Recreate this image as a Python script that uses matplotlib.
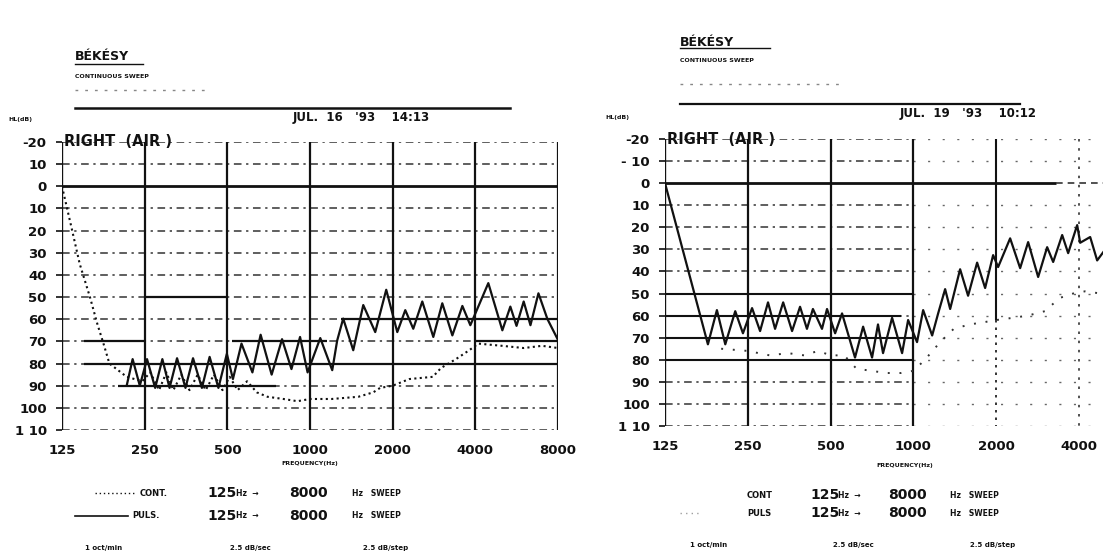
import matplotlib
matplotlib.use('Agg')
import matplotlib.pyplot as plt
from matplotlib.lines import Line2D

plt.rcParams['font.family'] = 'DejaVu Sans'

# ---------------- datos ----------------
FREQ_TICKS = [125, 250, 500, 1000, 2000, 4000, 8000]
LEFT_FREQ_LABELS = ['125', '250', '500', '1000', '2000', '4000', '8000']
RIGHT_FREQ_LABELS = ['125', '250', '500', '1000', '2000', '4000', '']  # 8000 queda fuera del recorte
DB_TICKS = [-20, -10, 0, 10, 20, 30, 40, 50, 60, 70, 80, 90, 100, 110]
LEFT_DB_LABELS = ['-20', '10', '0', '10', '20', '30', '40', '50', '60', '70', '80', '90', '100', '1 10']
RIGHT_DB_LABELS = ['-20', '- 10', '0', '10', '20', '30', '40', '50', '60', '70', '80', '90', '100', '1 10']

# registro izquierdo (JUL. 16)
l_puls_f = [215, 226, 240, 255, 273, 290, 308, 328, 352, 375,
            404, 431, 464, 498, 524, 563, 617, 661, 725, 791,
            856, 920, 980, 1090, 1205, 1256, 1321, 1437, 1563, 1728,
            1895, 2079, 2223, 2377, 2564, 2812, 3032, 3299, 3588, 3836,
            4460, 5017, 5365, 5650, 6000, 6350, 6790, 7320, 7960]
l_puls_db = [90, 78, 90, 78, 91, 78, 91, 77.6, 91, 77.6,
             91, 77, 91, 75.6, 87, 71, 84, 67, 85, 69,
             82.5, 68, 84, 68.5, 83, 69.6, 59.7, 74, 53.6, 65.8,
             46.7, 65.8, 55.9, 64.3, 52, 68, 52.8, 67.3, 54, 62.7,
             43.7, 65, 54.3, 63, 52, 62.7, 48.3, 59.9, 68.8]
l_cont_f = [125, 135, 145, 158, 168, 178, 186, 200, 215, 245,
            262, 282, 300, 318, 340, 364, 390, 417, 447, 480, 510, 545, 590, 640,
            700, 800, 900, 1000, 1200, 1500, 1700, 1800, 2000, 2300,
            2800, 3000, 3400, 3800, 4100, 5000, 6000, 7000, 8000]
l_cont_db = [0, 18, 35, 50, 62, 72, 80, 83, 86, 88,
             84, 92, 84, 92, 85, 92, 85, 92, 85, 92, 86, 92, 88, 93,
             95, 96, 97, 96, 96, 95, 93, 91, 90, 87,
             86, 82, 78, 74, 71, 72, 73, 72, 73]

# registro derecho (JUL. 19)
r_puls_f = [125, 179, 193, 207, 225, 240, 259, 277, 296, 314, 336, 362, 387,
            410, 431, 465, 485, 519, 550, 613, 656, 707, 743, 775, 836, 909,
            956, 1030, 1084, 1169, 1229, 1303, 1359, 1477, 1579, 1703, 1821,
            1947, 2030, 2245, 2441, 2610, 2838, 3060, 3218, 3470, 3648, 3934,
            4034, 4386, 4650, 5185]
r_puls_db = [0, 73, 57.5, 73, 58, 68, 56.6, 67, 54, 66, 54, 67, 56,
             66, 57, 66, 57, 68, 59, 79, 65, 79, 64, 77, 61, 77,
             62, 72, 57.5, 69, 59, 48, 57, 39, 51, 36, 47.5,
             32.6, 38, 25, 38.5, 26.7, 42.5, 29, 35.7, 23.5, 31.7, 19,
             27, 24.4, 35, 27]
r_cont_f = [200, 250, 300, 350, 400, 450, 500, 560, 620, 700, 800, 900, 1000,
            1100, 1250, 1400, 1600, 1800, 2000, 2300, 2600, 3000, 3400, 3800,
            4200, 4800, 5400]
r_cont_db = [75, 76, 78, 77, 78, 76, 78, 78, 84, 85, 86, 86, 85,
             80, 72, 66, 64, 63, 62, 61, 60, 58, 52, 50, 49, 50, 48]

# trazos horizontales gruesos del registrador (nivel, f inicio, f fin)
l_marks = [(50, 250, 500), (70, 150, 250), (70, 520, 1150), (80, 150, 8000),
           (90, 200, 750), (60, 1300, 8000), (70, 4000, 8000)]
r_marks = [(50, 125, 1000), (60, 125, 900), (70, 125, 1000), (80, 125, 1000)]

W, H = 1103, 556
INK = '#111111'

fig = plt.figure(figsize=(W / 100, H / 100), dpi=100)
fig.patch.set_facecolor('white')


def px_axes(x0, y_top, x1, y_bot):
    return fig.add_axes([x0 / W, 1 - y_bot / H, (x1 - x0) / W, (y_bot - y_top) / H])


def ftext(x, y, s, **kw):
    kw.setdefault('color', INK)
    kw.setdefault('va', 'center')
    fig.text(x / W, 1 - y / H, s, **kw)


def fline(x0, x1, y, **kw):
    kw.setdefault('color', INK)
    fig.add_artist(Line2D([x0 / W, x1 / W], [1 - y / H, 1 - y / H],
                          transform=fig.transFigure, **kw))


def base_axes(ax, xlabels, ylabels, faded_right=False):
    ax.set_xscale('log', base=2)
    ax.set_xlim(125, 8000)
    ax.set_ylim(110, -20)
    for s in ax.spines.values():
        s.set_visible(False)
    ax.set_xticks(FREQ_TICKS)
    ax.set_xticklabels(xlabels, fontsize=9.5, fontweight='bold')
    ax.xaxis.set_minor_locator(plt.NullLocator())
    ax.set_yticks(DB_TICKS)
    ax.set_yticklabels(ylabels, fontsize=9.5, fontweight='bold')
    ax.tick_params(axis='x', length=0, pad=10, colors=INK)
    ax.tick_params(axis='y', length=4, width=1.2, pad=7, colors=INK)
    # rejilla horizontal
    for db in DB_TICKS:
        if db == 0:
            continue
        if faded_right:
            ax.hlines(db, 125, 1000, colors='#333333', lw=1.1, linestyles=(0, (5, 3, 1.5, 3)))
            ax.hlines(db, 1000, 8000, colors='#666666', lw=1.0, linestyles=(0, (1.5, 9)))
        else:
            ax.hlines(db, 125, 8000, colors='#333333', lw=1.1, linestyles=(0, (5, 3, 1.5, 3)))
    ax.axvline(125, color=INK, lw=1.7)


# ---------------- panel izquierdo ----------------
ax1 = px_axes(62, 142, 558, 430)
base_axes(ax1, LEFT_FREQ_LABELS, LEFT_DB_LABELS)
ax1.vlines(FREQ_TICKS[1:], -20, 110, colors=INK, lw=1.6)
ax1.hlines(0, 125, 8000, colors=INK, lw=2.0)
for lvl, f0, f1 in l_marks:
    ax1.hlines(lvl, f0, f1, colors=INK, lw=1.6)
ax1.plot(l_cont_f, l_cont_db, color=INK, lw=1.5, linestyle=(0, (1, 1.6)))
ax1.plot(l_puls_f, l_puls_db, color=INK, lw=1.6)
ax1.text(127, -20, 'RIGHT  (AIR )', fontsize=10.5, fontweight='bold', color=INK,
         va='center', ha='left')

ftext(75, 57, 'BÉKÉSY', fontsize=9, fontweight='bold')
fline(75, 143, 64, lw=1.0)
ftext(75, 76, 'CONTINUOUS SWEEP', fontsize=4.5, fontweight='bold')
fline(75, 205, 90, lw=1.0, linestyle=(0, (2, 5)), alpha=0.5)
fline(75, 510, 108, lw=1.8)
ftext(293, 117, "JUL.  16   '93    14:13", fontsize=8.5, fontweight='bold')
ftext(8, 120, 'HL(dB)', fontsize=4.5, fontweight='bold')
ftext(310, 464, 'FREQUENCY(Hz)', fontsize=4.5, fontweight='bold', ha='center')

fline(95, 136, 493, lw=1.0, linestyle=(0, (1, 2)))
ftext(140, 493, 'CONT.', fontsize=6, fontweight='bold')
fline(75, 128, 516, lw=1.2)
ftext(132, 516, 'PULS.', fontsize=6, fontweight='bold')
for yy in (493, 516):
    ftext(207, yy, '125', fontsize=10, fontweight='bold')
    ftext(236, yy, 'Hz  →', fontsize=5.5, fontweight='bold')
    ftext(289, yy, '8000', fontsize=10, fontweight='bold')
    ftext(352, yy, 'Hz   SWEEP', fontsize=5.5, fontweight='bold')
ftext(85, 548, '1 oct/min', fontsize=5, fontweight='bold')
ftext(230, 548, '2.5 dB/sec', fontsize=5, fontweight='bold')
ftext(363, 548, '2.5 dB/step', fontsize=5, fontweight='bold')

# ---------------- panel derecho ----------------
ax2 = px_axes(665, 139, 1162, 426)
base_axes(ax2, RIGHT_FREQ_LABELS, RIGHT_DB_LABELS, faded_right=True)
ax2.vlines(FREQ_TICKS[1:4], -20, 110, colors=INK, lw=1.6)
ax2.vlines(2000, -20, 62, colors=INK, lw=1.5)
ax2.vlines(2000, 62, 110, colors=INK, lw=1.2, linestyles=(0, (1.5, 3)))
ax2.vlines([4000, 8000], -20, 110, colors='#333333', lw=1.2, linestyles=(0, (1.5, 4)))
ax2.hlines(0, 125, 3300, colors=INK, lw=2.0)
ax2.hlines(0, 3300, 8000, colors='#333333', lw=1.2, linestyles=(0, (4, 3)))
for lvl, f0, f1 in r_marks:
    ax2.hlines(lvl, f0, f1, colors=INK, lw=1.5)
ax2.plot(r_cont_f, r_cont_db, color='#333333', lw=1.4, linestyle=(0, (1, 5)))
ax2.plot(r_puls_f, r_puls_db, color=INK, lw=1.6)
ax2.text(127, -20, 'RIGHT  (AIR )', fontsize=10.5, fontweight='bold', color=INK,
         va='center', ha='left')

ftext(680, 42, 'BÉKÉSY', fontsize=9, fontweight='bold')
fline(680, 770, 48, lw=1.0)
ftext(680, 61, 'CONTINUOUS SWEEP', fontsize=4.5, fontweight='bold')
fline(680, 840, 84, lw=1.0, linestyle=(0, (2, 5)), alpha=0.5)
fline(680, 1020, 104, lw=1.6)
ftext(900, 113, "JUL.  19   '93    10:12", fontsize=8.5, fontweight='bold')
ftext(605, 118, 'HL(dB)', fontsize=4.5, fontweight='bold')
ftext(905, 465, 'FREQUENCY(Hz)', fontsize=4.5, fontweight='bold', ha='center')

fline(680, 700, 513, lw=1.0, linestyle=(0, (1, 3)), alpha=0.4)
ftext(747, 495, 'CONT', fontsize=6, fontweight='bold')
ftext(747, 513, 'PULS', fontsize=6, fontweight='bold')
for yy in (495, 513):
    ftext(810, yy, '125', fontsize=10, fontweight='bold')
    ftext(838, yy, 'Hz  →', fontsize=5.5, fontweight='bold')
    ftext(888, yy, '8000', fontsize=10, fontweight='bold')
    ftext(950, yy, 'Hz   SWEEP', fontsize=5.5, fontweight='bold')
ftext(690, 545, '1 oct/min', fontsize=5, fontweight='bold')
ftext(833, 545, '2.5 dB/sec', fontsize=5, fontweight='bold')
ftext(970, 545, '2.5 dB/step', fontsize=5, fontweight='bold')

fig.savefig('out.png', dpi=100, facecolor='white')
